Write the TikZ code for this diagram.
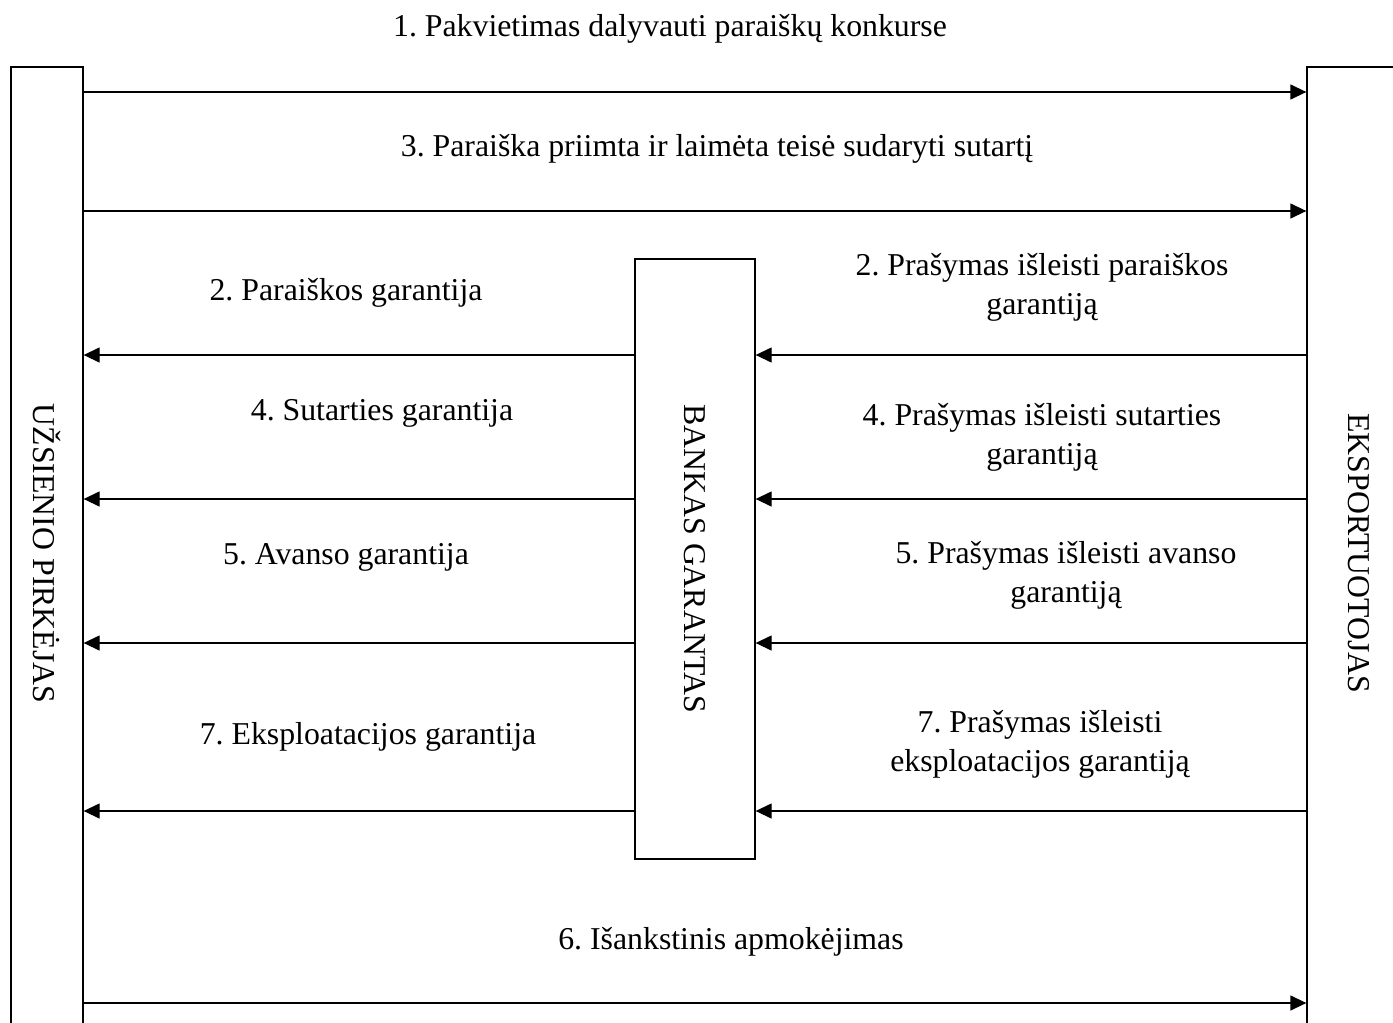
\documentclass[tikz,border=0pt]{standalone}
\usepackage{fontspec}
\setmainfont{Liberation Serif}
\usepackage{graphicx}
\usetikzlibrary{arrows.meta}
\frenchspacing

\begin{document}
\begin{tikzpicture}[x=1pt,y=-1pt,line width=1.3pt,
    font=\fontsize{31.8}{39}\selectfont,
    party/.style={draw,inner sep=0pt},
    flow/.style={-{Triangle[length=16pt,width=15pt]}},
    lbl/.style={inner sep=0pt,anchor=base},
    lbltwo/.style={inner sep=0pt,align=center}]
\useasboundingbox (0,0) rectangle (1393,1023);
\clip (0,0) rectangle (1393,1023);
% parties
\node[party,minimum width=72pt,minimum height=973pt](buyer)at(47,553.5){\rotatebox{-90}{UŽSIENIO PIRKĖJAS}};
\node[party,minimum width=104pt,minimum height=973pt](exporter)at(1359,553.5){\rotatebox{-90}{EKSPORTUOTOJAS}};
\node[party,minimum width=120pt,minimum height=600pt](bank)at(695,559){\rotatebox{-90}{BANKAS GARANTAS}};
% flows
\foreach \y in {92,211,1003}
    \draw[flow] (buyer.east |- 0,\y) -- (exporter.west |- 0,\y);
\foreach \y in {355,499,643,811}{
    \draw[flow] (exporter.west |- 0,\y) -- (bank.east |- 0,\y);
    \draw[flow] (bank.west |- 0,\y) -- (buyer.east |- 0,\y);
}
% labels
\node[lbl](invite)at(670,36){1. Pakvietimas dalyvauti paraiškų konkurse};
\node[lbl](won)at(717,156){3. Paraiška priimta ir laimėta teisė sudaryti sutartį};
\node[lbl](bidg)at(346,300){2. Paraiškos garantija};
\node[lbl](contrg)at(382,420){4. Sutarties garantija};
\node[lbl](advg)at(346,564){5. Avanso garantija};
\node[lbl](perfg)at(368,744){7. Eksploatacijos garantija};
\node[lbl](prepay)at(731,949){6. Išankstinis apmokėjimas};
\node[lbltwo](bidreq)at(1042,287){2. Prašymas išleisti paraiškos\\garantiją};
\node[lbltwo](contrreq)at(1042,437){4. Prašymas išleisti sutarties\\garantiją};
\node[lbltwo](advreq)at(1066,575){5. Prašymas išleisti avanso\\garantiją};
\node[lbltwo](perfreq)at(1040,744){7. Prašymas išleisti\\eksploatacijos garantiją};
\end{tikzpicture}
\end{document}
